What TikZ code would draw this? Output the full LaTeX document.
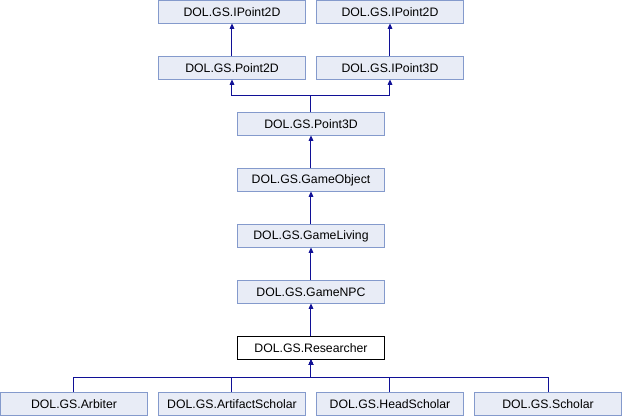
\documentclass[tikz,border=0pt]{standalone}
\usepackage{fontspec}
\setmainfont{Liberation Sans}
\usetikzlibrary{arrows.meta, positioning, calc}
\definecolor{classfill}{RGB}{232, 236, 246}
\definecolor{classborder}{RGB}{132, 154, 204}
\definecolor{linkcolor}{RGB}{16, 16, 150}

\begin{document}
\begin{tikzpicture}[
    node distance=24.75pt and 8.25pt,
    cls/.style={draw=classborder, fill=classfill, line width=0.75pt, minimum width=110.25pt, minimum height=17.25pt, inner sep=0pt, outer sep=0pt, font=\fontsize{9.2}{11}\selectfont},
    current/.style={cls, draw=black, fill=white},
    arrow/.style={-{Triangle[width=3.5pt, length=4pt]}, linkcolor, line width=0.75pt}
]
    % Main classes
    \node[current] (researcher) {DOL.GS.Researcher};
    \node[cls, above=of researcher] (gamenpc) {DOL.GS.GameNPC};
    \node[cls, above=of gamenpc] (gameliving) {DOL.GS.GameLiving};
    \node[cls, above=of gameliving] (gameobject) {DOL.GS.GameObject};
    \node[cls, above=of gameobject] (point3d) {DOL.GS.Point3D};
    \node[cls, above=of point3d, xshift=-59.25pt] (point2d) {DOL.GS.Point2D};
    \node[cls, above=of point3d, xshift=59.25pt] (ipoint3d) {DOL.GS.IPoint3D};
    \node[cls, above=of point2d] (ipointa) {DOL.GS.IPoint2D};
    \node[cls, above=of ipoint3d] (ipointb) {DOL.GS.IPoint2D};

    % Derived classes
    \node[cls, below=of researcher, xshift=-59.25pt] (artifact) {DOL.GS.ArtifactScholar};
    \node[cls, below=of researcher, xshift=59.25pt] (headscholar) {DOL.GS.HeadScholar};
    \node[cls, left=of artifact] (arbiter) {DOL.GS.Arbiter};
    \node[cls, right=of headscholar] (scholar) {DOL.GS.Scholar};

    % Inheritance
    \draw[arrow] (point2d) -- (ipointa);
    \draw[arrow] (ipoint3d) -- (ipointb);
    \draw[arrow] (point3d.north) -- ++(0,12.75pt) -| (point2d.south);
    \draw[arrow] (point3d.north) -- ++(0,12.75pt) -| (ipoint3d.south);
    \draw[arrow] (gameobject) -- (point3d);
    \draw[arrow] (gameliving) -- (gameobject);
    \draw[arrow] (gamenpc) -- (gameliving);
    \draw[arrow] (researcher) -- (gamenpc);
    \foreach \sub in {arbiter, artifact, headscholar, scholar}
        \draw[arrow] (\sub.north) -- ++(0,11.5pt) -| (researcher.south);

    \pgfresetboundingbox
    \useasboundingbox ($(arbiter.south west)+(-0.375pt,-0.375pt)$) rectangle ++(466.5pt,312pt);
\end{tikzpicture}
\end{document}
